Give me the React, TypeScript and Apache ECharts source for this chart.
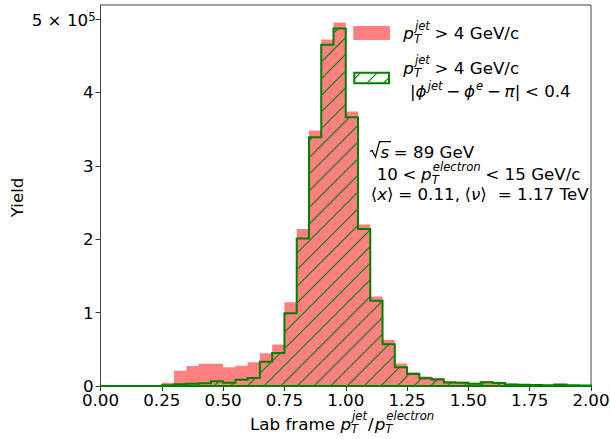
import React, { useEffect, useRef } from 'react';
import * as echarts from 'echarts';

// ---- data ----
const binEdges = [0.0, 0.05, 0.1, 0.15, 0.2, 0.25, 0.3, 0.35, 0.4, 0.45, 0.5, 0.55, 0.6, 0.65, 0.7, 0.75, 0.8, 0.85, 0.9, 0.95, 1.0, 1.05, 1.1, 1.15, 1.2, 1.25, 1.3, 1.35, 1.4, 1.45, 1.5, 1.55, 1.6, 1.65, 1.7, 1.75, 1.8, 1.85, 1.9, 1.95, 2.0];
const yieldAll = [0, 0, 0, 0, 0, 4500, 20800, 27200, 30300, 30300, 25400, 27600, 32200, 44500, 56700, 114000, 214000, 348000, 472000, 495000, 374000, 220000, 122000, 62600, 30800, 18600, 13000, 11300, 6800, 5700, 3600, 6400, 5400, 3000, 2500, 2000, 1500, 2700, 1500, 1000];
const yieldBackToBack = [0, 0, 0, 0, 0, 1000, 2500, 3000, 3600, 6400, 4500, 8600, 11000, 33000, 45000, 99000, 201000, 339000, 465000, 487000, 366000, 214000, 116000, 57000, 25400, 16300, 10500, 9000, 4900, 4500, 3000, 5000, 4000, 2200, 1800, 1500, 1000, 2000, 1000, 700];
const xTicks = [0, 0.25, 0.5, 0.75, 1.0, 1.25, 1.5, 1.75, 2.0];
const yTicks = [0, 100000, 200000, 300000, 400000, 500000];
const yTickLabels = ['0', '1', '2', '3', '4', ''];
const xMin = 0;
const xMax = 2;
const yMax = 519000;

const SALMON = '#ff8080';
const GREEN = '#008000';
const FONT = 'DejaVu Sans';
const FS = 16.7;
const CENTRAL = 0.346;

let mctx: CanvasRenderingContext2D | null = null;
function measure(text: string, size: number, italic?: boolean) {
  if (!mctx) mctx = document.createElement('canvas').getContext('2d');
  mctx!.font = `${italic ? 'italic ' : ''}${size}px "${FONT}"`;
  return mctx!.measureText(text).width;
}
function txt(text: string, x: number, base: number, size: number, italic?: boolean) {
  return {
    type: 'text', x, y: base - CENTRAL * size, silent: true, z: 100,
    style: { text, fontSize: size, fontFamily: FONT, fontStyle: italic ? 'italic' : 'normal', fill: '#000', align: 'left', verticalAlign: 'middle' },
  };
}
type Tok = { t?: string; it?: boolean; sub?: string; sup?: string; dx?: number; raise?: number; up?: boolean };
function mathLine(toks: Tok[], x0: number, base: number, fs: number = FS): any[] {
  const ss = fs * 0.7;
  const out: any[] = [];
  let x = x0;
  for (const k of toks) {
    x += k.dx || 0;
    if (k.t !== undefined) {
      out.push(txt(k.t, x, base, fs, k.it));
      x += measure(k.t, fs, k.it);
    } else {
      const both = !!(k.sub && k.sup);
      let w = 0;
      if (k.sub) {
        out.push(txt(k.sub, x, base + (both ? 0.23 * fs : 0.15 * fs), ss, true));
        w = Math.max(w, measure(k.sub, ss, true));
      }
      if (k.sup) {
        const r = k.raise !== undefined ? k.raise : both ? 0.53 * fs : 0.42 * fs;
        const off = k.up ? 0 : 1;
        out.push(txt(k.sup, x + off, base - r, ss, !k.up));
        w = Math.max(w, measure(k.sup, ss, !k.up) + off);
      }
      x += w;
    }
  }
  return out;
}

function hatchCanvas() {
  const c = document.createElement('canvas');
  c.width = 100;
  c.height = 100;
  const g = c.getContext('2d')!;
  g.strokeStyle = GREEN;
  g.lineWidth = 1.1;
  for (let k = -1; k <= 13; k++) {
    const cc = (k * 100) / 6;
    g.beginPath();
    g.moveTo(cc + 1, -1);
    g.lineTo(cc - 101, 101);
    g.stroke();
  }
  return c;
}

function stepPoints(api: any, vals: number[]) {
  const pts: number[][] = [api.coord([binEdges[0], 0])];
  vals.forEach((v, i) => {
    pts.push(api.coord([binEdges[i], v]));
    pts.push(api.coord([binEdges[i + 1], v]));
  });
  pts.push(api.coord([binEdges[binEdges.length - 1], 0]));
  return pts;
}

export default function App() {
  const ref = useRef<HTMLDivElement>(null);
  useEffect(() => {
    const chart = echarts.init(ref.current!, null, { renderer: 'svg' });
    const hatch = { image: hatchCanvas(), repeat: 'repeat' };
    const pT = [{ t: 'p', it: true }, { sub: 'T', sup: 'jet' }, { t: '> 4 GeV/c', dx: 4.6 }];
    const graphics: any[] = [
      // legend patches
      { type: 'rect', shape: { x: 353.3, y: 26, width: 36.7, height: 14 }, style: { fill: SALMON }, silent: true },
      { type: 'rect', shape: { x: 354.3, y: 72.7, width: 34.7, height: 10.6 }, style: { fill: hatch, stroke: GREEN, lineWidth: 2 }, silent: true },
      ...mathLine(pT, 403.3, 39),
      ...mathLine(pT, 403.3, 73.3),
      ...mathLine([
        { t: '|' }, { t: 'ϕ', it: true }, { sup: 'jet' }, { t: '−', dx: 3.7 }, { t: 'ϕ', it: true, dx: 3.7 }, { sup: 'e' },
        { t: '−', dx: 3.7 }, { t: 'π', it: true, dx: 3.7 }, { t: '|' }, { t: '< 0.4', dx: 4.6 },
      ], 410, 96.7),
      // annotation
      { type: 'polyline', shape: { points: [[370, 151.5], [372, 150.3], [375.5, 157], [379.5, 141.7], [391, 141.7]] }, style: { stroke: '#000', lineWidth: 1.3, fill: null }, silent: true },
      ...mathLine([{ t: 's', it: true }, { t: '= 89 GeV', dx: 4.6 }], 380.5, 157.3),
      ...mathLine([
        { t: '10' }, { t: '<', dx: 4.6 }, { t: 'p', it: true, dx: 4.6 }, { sub: 'T', sup: 'electron' }, { t: '< 15 GeV/c', dx: 4.6 },
      ], 376.7, 180),
      ...mathLine([
        { t: '⟨' }, { t: 'x', it: true }, { t: '⟩' }, { t: '= 0.11,', dx: 4.6 }, { t: '⟨', dx: 4.5 }, { t: 'ν', it: true }, { t: '⟩' }, { t: '= 1.17 TeV', dx: 11 },
      ], 370.7, 199.3),
      // axis labels
      ...mathLine([
        { t: 'Lab frame' }, { t: 'p', it: true, dx: 5.5 }, { sub: 'T', sup: 'jet' }, { t: '/', dx: 1 }, { t: 'p', it: true, dx: 1 }, { sub: 'T', sup: 'electron' },
      ], 250, 429.3),
      ...mathLine([{ t: '5 × 10' }, { sup: '5', up: true, raise: 4.3 }], 31.7, 25.3),
      {
        type: 'text', x: 17.3, y: 197.5, rotation: Math.PI / 2, silent: true,
        style: { text: 'Yield', fontSize: FS, fontFamily: FONT, fill: '#000', align: 'center', verticalAlign: 'middle' },
      },
    ];

    const option: any = {
      animation: false,
      backgroundColor: '#fff',
      grid: { left: 100.5, right: 19, top: 5, bottom: 53, show: true, borderColor: '#444', borderWidth: 1, outerBoundsMode: 'none', containLabel: false },
      xAxis: {
        type: 'value', min: xMin, max: xMax, interval: 0.25,
        splitLine: { show: false },
        axisLine: { show: true, onZero: false, lineStyle: { color: '#444', width: 1 } },
        axisTick: { show: true, length: 5, lineStyle: { color: '#333', width: 1 }, customValues: xTicks },
        axisLabel: { customValues: xTicks, formatter: (v: number) => v.toFixed(2), fontFamily: FONT, fontSize: FS, color: '#000', margin: 5 },
      },
      yAxis: {
        type: 'value', min: 0, max: yMax,
        splitLine: { show: false },
        axisLine: { show: true, onZero: false, lineStyle: { color: '#444', width: 1 } },
        axisTick: { show: true, length: 5, lineStyle: { color: '#333', width: 1 }, customValues: yTicks },
        axisLabel: {
          customValues: yTicks,
          formatter: (v: number) => { const i = yTicks.indexOf(v); return i >= 0 ? yTickLabels[i] : ''; },
          fontFamily: FONT, fontSize: FS, color: '#000', margin: 7,
        },
      },
      series: [
        {
          type: 'custom', name: 'all', silent: true, clip: false, z: 2, data: [[0, 0]],
          renderItem: (_p: any, api: any) => ({ type: 'polygon', shape: { points: stepPoints(api, yieldAll) }, style: { fill: SALMON } }),
        },
        {
          type: 'custom', name: 'b2b', silent: true, clip: false, z: 3, data: [[0, 0]],
          renderItem: (_p: any, api: any) => ({
            type: 'polygon', shape: { points: stepPoints(api, yieldBackToBack) },
            style: { fill: hatch, stroke: GREEN, lineWidth: 2, lineJoin: 'miter' },
          }),
        },
      ],
      graphic: graphics,
    };
    chart.setOption(option);
    return () => chart.dispose();
  }, []);
  return <div ref={ref} style={{ position: 'absolute', left: 0, top: 0, width: 610, height: 439 }} />;
}
